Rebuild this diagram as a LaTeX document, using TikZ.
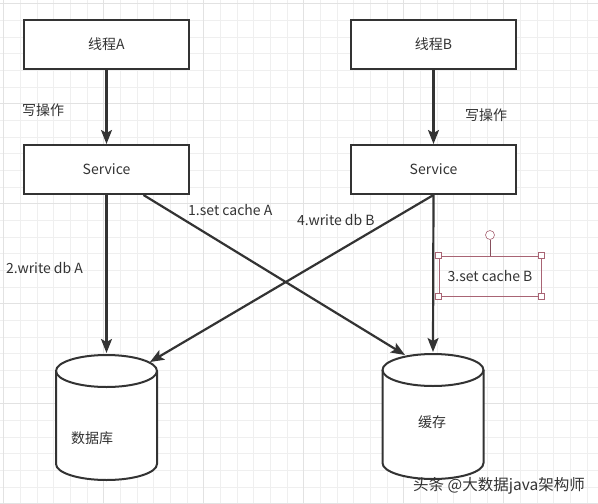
\documentclass[tikz,border=0pt]{standalone}
\usepackage{fontspec}
\setmainfont{Noto Sans CJK SC}
\usetikzlibrary{arrows.meta,calc}
\definecolor{ink}{HTML}{333333}
\definecolor{gridminor}{HTML}{EFEFEF}
\definecolor{gridmajor}{HTML}{E2E2E2}
\definecolor{selred}{HTML}{A86474}
\tikzset{
  box/.style={draw=ink,line width=2pt,fill=white,minimum width=165pt,minimum height=49pt,
    font=\fontsize{14}{16}\selectfont,text=ink},
  store/.style={inner sep=0pt,outer sep=0pt,minimum width=101pt,minimum height=125pt},
  flow/.style={draw=ink,line width=2.2pt,-{Stealth[length=14pt,width=11pt,inset=3pt]}},
  lbl/.style={anchor=west,inner sep=0pt,font=\fontsize{14}{16}\selectfont,text=ink},
  handle/.style={draw=selred,fill=white,line width=0.6pt,minimum size=6pt,inner sep=0pt}
}
\newcommand{\drawstore}[1]{
  \draw[ink,line width=2pt,fill=white] ($(#1.north west)+(0,16)$) -- ($(#1.south west)+(0,-16)$)
    arc[start angle=180,end angle=360,x radius=50.5pt,y radius=16pt]
    -- ($(#1.north east)+(0,16)$)
    arc[start angle=0,end angle=180,x radius=50.5pt,y radius=16pt] -- cycle;
  \draw[ink,line width=2pt] ($(#1.north west)+(0,16)$)
    arc[start angle=180,end angle=360,x radius=50.5pt,y radius=16pt];
}
\begin{document}
\begin{tikzpicture}[x=1pt,y=-1pt]
    \useasboundingbox[fill=white] (0,0) rectangle (598,504);
    % grid
    \foreach \k in {0,...,36} {
      \draw[gridminor,line width=0.6pt] ({3.6+16.67*\k},0) -- ({3.6+16.67*\k},504);
    }
    \foreach \k in {0,...,30} {
      \draw[gridminor,line width=0.6pt] (0,{3.6+16.67*\k}) -- (598,{3.6+16.67*\k});
    }
    \foreach \k in {0,...,5} {
      \draw[gridmajor,line width=0.7pt] ({3.6+100*\k},0) -- ({3.6+100*\k},504);
      \draw[gridmajor,line width=0.7pt] (0,{3.6+100*\k}) -- (598,{3.6+100*\k});
    }

    \node[box] (thA) at (106.5,44.5) {线程A};
    \node[box] (svA) at (106.5,169.5) {Service};
    \node[box] (thB) at (433.5,44.5) {线程B};
    \node[box] (svB) at (433.5,169.5) {Service};

    \node[store] (db) at (106.5,417.5) {};
    \node[store] (cache) at (433,416.5) {};
    \drawstore{db}
    \drawstore{cache}
    \node[text=ink,font=\fontsize{14}{16}\selectfont] (dbtxt) at (92,438) {数据库};
    \node[text=ink,font=\fontsize{14}{16}\selectfont] (cachetxt) at (432,422) {缓存};

    \draw[flow] (thA) -- (svA);
    \draw[flow] (thB) -- (svB);
    \draw[flow] (svA.south) -- ($(db.north)+(0,-2)$);
    \draw[flow] ($(svA.south)+(37,0)$) -- ($(cache.north)+(-28,1)$);
    \draw[flow] (svB.south) -- ($(db.north)+(43.5,7)$);
    \draw[flow] (svB.south) -- ($(cache.north)+(0,-2)$);

    \node[lbl] at (22,110) {写操作};
    \node[lbl] at (465,115) {写操作};
    \node[lbl] at (6,268) {2.write db A};
    \node[lbl] at (188,210) {1.set cache A};
    \node[lbl] at (297,220) {4.write db B};

    % selected text box
    \node[draw=selred,line width=0.6pt,minimum width=102pt,minimum height=40pt,
      font=\fontsize{14}{16}\selectfont,text=ink] (cb) at (490,276) {3.set cache B};
    \node[handle,circle,minimum size=9pt] (rot) at (490,235) {};
    \draw[selred!80!black,line width=0.8pt] (rot) -- (cb.north);
    \node[handle] at (cb.north west) {};
    \node[handle] at (cb.north east) {};
    \node[handle] at (cb.south west) {};
    \node[handle] at (cb.south east) {};

    \node[text=ink,font=\fontsize{15.5}{17}\selectfont] at (499,486) {头条 @大数据java架构师};
  \end{tikzpicture}
\end{document}
